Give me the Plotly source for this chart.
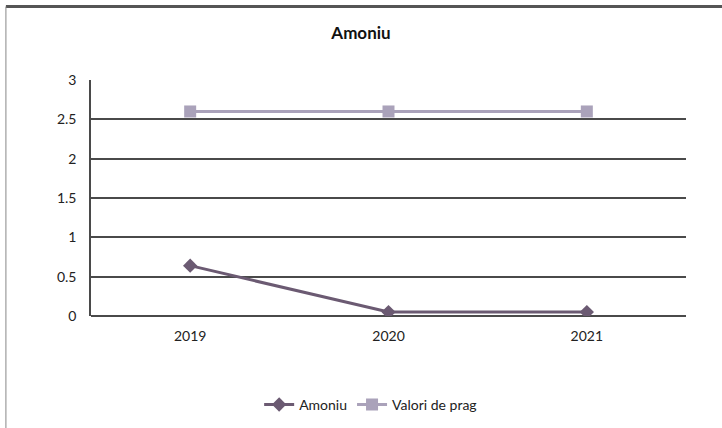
import plotly.graph_objects as go

years = ["2019", "2020", "2021"]
amoniu = [0.64, 0.05, 0.05]
prag = [2.6, 2.6, 2.6]
y_ticks = [0, 0.5, 1, 1.5, 2, 2.5, 3]
y_tick_labels = ["0", "0.5", "1", "1.5", "2", "2.5", "3"]

fig = go.Figure()
fig.add_trace(go.Scatter(
    x=years, y=amoniu, name="Amoniu", mode="lines+markers",
    line=dict(color="#6b5a72", width=3),
    marker=dict(symbol="diamond", size=11, color="#6b5a72"),
))
fig.add_trace(go.Scatter(
    x=years, y=prag, name="Valori de prag", mode="lines+markers",
    line=dict(color="#aaa2ba", width=3),
    marker=dict(symbol="square", size=12, color="#aaa2ba"),
))

fig.update_layout(
    width=722, height=428,
    margin=dict(l=91, r=36, t=80, b=112, autoexpand=False),
    paper_bgcolor="white", plot_bgcolor="white",
    font=dict(family="Lato, Open Sans, sans-serif", size=14, color="#222222"),
    title=dict(text="<b>Amoniu</b>", x=0.5, xanchor="center", y=0.922, yanchor="middle",
               font=dict(size=17, color="#111111")),
    xaxis=dict(type="category", showgrid=False, showline=False, ticks="",
               ticklabelstandoff=10, tickfont=dict(size=14), range=[-0.5, 2.5]),
    yaxis=dict(range=[0, 3], tickvals=y_ticks, ticktext=y_tick_labels,
               showgrid=True, gridcolor="#4a4a4a", gridwidth=1.5,
               showline=True, linecolor="#4a4a4a", linewidth=1.5,
               zeroline=True, zerolinecolor="#4a4a4a", zerolinewidth=1.5,
               ticks="", ticklabelstandoff=10,
               tickfont=dict(size=14)),
    legend=dict(orientation="h", x=0.47, xanchor="center",
                yref="container", y=0.054, yanchor="middle",
                font=dict(size=14), traceorder="normal"),
    showlegend=True,
)

fig.add_shape(type="line", xref="paper", yref="paper",
              x0=-0.143, x1=1.07, y0=1.311, y1=1.311,
              line=dict(color="#555555", width=3))
fig.add_shape(type="line", xref="paper", yref="paper",
              x0=-0.143, x1=-0.143, y0=-0.48, y1=1.311,
              line=dict(color="#888888", width=1))

fig.write_html("out.html", config={"displayModeBar": False},
               post_script="document.body.style.margin='0';")
